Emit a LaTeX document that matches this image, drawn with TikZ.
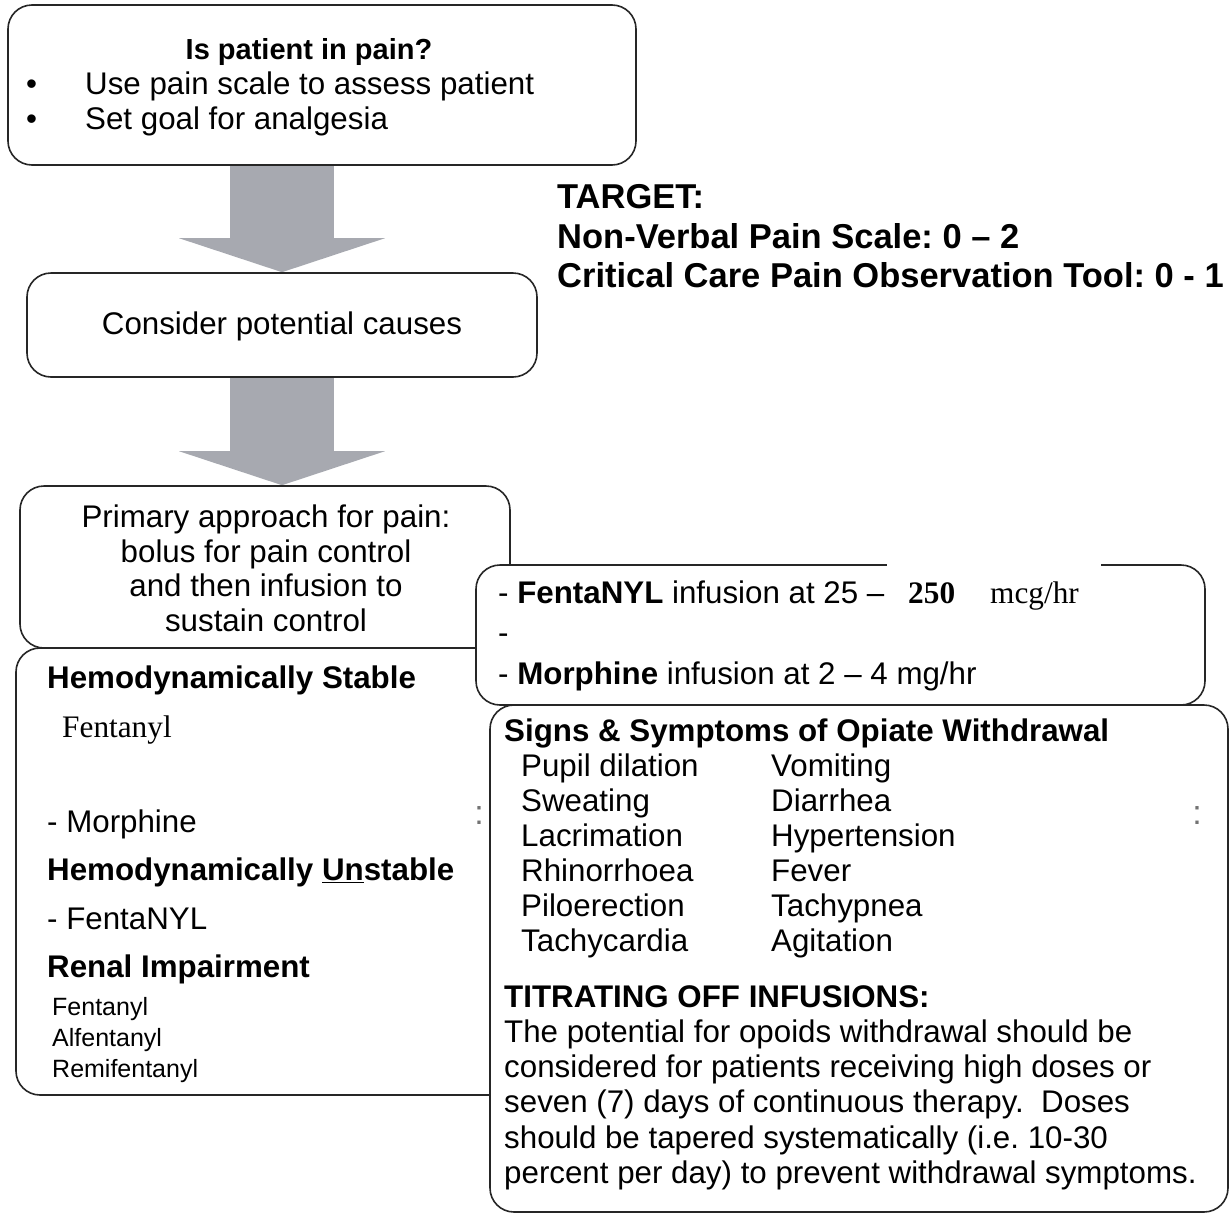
\documentclass[tikz,border=0pt]{standalone}
\usepackage{fontspec}
\setmainfont{Liberation Sans}
\newfontfamily\seriffont{Liberation Serif}
\usetikzlibrary{arrows.meta,backgrounds}
\definecolor{arrowgray}{RGB}{167,169,176}
\frenchspacing

\begin{document}
\begin{tikzpicture}
	[x=1pt,y=-1pt,
	 box/.style={draw=black!85,line width=1.6pt,fill=white,rounded corners=24pt,inner sep=0pt},
	 txt/.style={anchor=base west,inner sep=0pt,font=\fontsize{31.3}{35}\selectfont},
	 ctxt/.style={anchor=base,inner sep=0pt,font=\fontsize{31.3}{35}\selectfont},
	 small/.style={anchor=base west,inner sep=0pt,font=\fontsize{25}{30}\selectfont},
	 target/.style={anchor=base west,inner sep=0pt,font=\fontsize{34.5}{39}\selectfont\bfseries},
	 speck/.style={text=black!55,inner sep=0pt,font=\fontsize{34}{34}\selectfont},
	 fat/.style={draw=arrowgray,line width=104pt,-{Triangle[width=206pt,length=34pt,line width=0pt]}}]
    \useasboundingbox (0,0) rectangle (1231,1213);
    % boxes
    \node[box,minimum width=628,minimum height=160] (pain) at (322,85) {};
    \node[box,minimum width=510,minimum height=104] (causes) at (282,325) {};
    \node[box,minimum width=490,minimum height=162] (primary) at (265,567) {};
    \node[box,minimum width=504,minimum height=447] (stable) at (268,871.5) {};
    \node[box,minimum width=729,minimum height=140] (infusion) at (840.5,635) {};
    \draw[white,line width=3pt] (887,565) -- (1101,565);
    \node[box,minimum width=738,minimum height=507] (signs) at (859,958.5) {};
    % block arrows
    \begin{pgfonlayer}{background}
    \draw[fat] (causes.north |- pain.south) -- (causes.north);
    \draw[fat] (causes.south) -- (causes.south |- primary.north);
    \end{pgfonlayer}
    % top box
    \node[ctxt,font=\fontsize{29}{35}\selectfont] (painq) at (309,59) {\textbf{Is patient in pain?}};
    \node[txt] (bul1) at (26,94) {\textbullet};
    \node[txt] (scale) at (85,94) {Use pain scale to assess patient};
    \node[txt] (bul2) at (26,129) {\textbullet};
    \node[txt] (goal) at (85,129) {Set goal for analgesia};
    \node[ctxt] (consider) at (282,334) {Consider potential causes};
    % target
    \node[target] (tgt) at (557,208) {TARGET:};
    \node[target] (nvps) at (557,248) {Non-Verbal Pain Scale: 0 – 2};
    \node[target] (cpot) at (557,287) {Critical Care Pain Observation Tool: 0 - 1};
    % primary approach
    \node[ctxt] (pa1) at (266,527) {Primary approach for pain:};
    \node[ctxt] (pa2) at (266,562) {bolus for pain control};
    \node[ctxt] (pa3) at (266,596) {and then infusion to};
    \node[ctxt] (pa4) at (266,631) {sustain control};
    % left column
    \node[txt] (hs) at (47,688) {\textbf{Hemodynamically Stable}};
    \node[txt] (fentS) at (62,737) {\seriffont Fentanyl};
    \node[txt] (morS) at (47,832) {- Morphine};
    \node[txt] (hu) at (47,880) {\textbf{Hemodynamically \underline{Un}stable}};
    \node[txt] (fentU) at (47,929) {- FentaNYL};
    \node[txt] (renal) at (47,977) {\textbf{Renal Impairment}};
    \node[small] (ren1) at (52,1015) {Fentanyl};
    \node[small] (ren2) at (52,1046) {Alfentanyl};
    \node[small] (ren3) at (52,1077) {Remifentanyl};
    % infusion box
    \node[txt] (fentI) at (498,603) {- \textbf{FentaNYL} infusion at 25 –};
    \node[txt] (fenthi) at (908,603) {\seriffont\bfseries 250};
    \node[txt] (fentunit) at (990,603) {\seriffont mcg/hr};
    \node[txt] (dash) at (498,643) {-};
    \node[txt] (morI) at (498,684) {- \textbf{Morphine} infusion at 2 – 4 mg/hr};
    % withdrawal box
    \node[txt] (sstitle) at (504,741) {\textbf{Signs \& Symptoms of Opiate Withdrawal}};
    \foreach \l/\r [count=\i from 0] in {Pupil dilation/Vomiting,Sweating/Diarrhea,Lacrimation/Hypertension,
        Rhinorrhoea/Fever,Piloerection/Tachypnea,Tachycardia/Agitation} {
      \node[txt] (symL\i) at (521,{776+35*\i}) {\l};
      \node[txt] (symR\i) at (771,{776+35*\i}) {\r};
    }
    \node[txt] (titr) at (504,1007) {\textbf{TITRATING OFF INFUSIONS:}};
    \node[txt] (p1) at (504,1042) {The potential for opoids withdrawal should be};
    \node[txt] (p2) at (504,1077) {considered for patients receiving high doses or};
    \node[txt] (p3) at (504,1112) {seven (7) days of continuous therapy.\ \ Doses};
    \node[txt] (p4) at (504,1148) {should be tapered systematically (i.e. 10-30};
    \node[txt] (p5) at (504,1183) {percent per day) to prevent withdrawal symptoms.};
    % stray marks
    \node[speck] (colL) at (479,816) {:};
    \node[speck] (colR) at (1197,816) {:};
\end{tikzpicture}
\end{document}
